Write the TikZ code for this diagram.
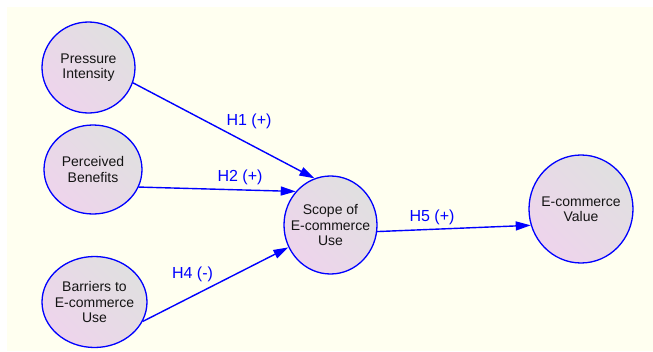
\documentclass[tikz,border=0pt]{standalone}
\usepackage{fontspec}
\setmainfont{Liberation Sans}
\usetikzlibrary{shapes.geometric,arrows.meta}
\definecolor{bgyellow}{RGB}{255,255,240}
\definecolor{edgeblue}{RGB}{0,0,255}
\definecolor{fillgray}{RGB}{224,224,224}
\definecolor{fillpink}{RGB}{238,212,236}
\definecolor{txt}{RGB}{20,20,20}
\begin{document}
\begin{tikzpicture}[x=1pt,y=-1pt,
  construct/.style={ellipse, draw=edgeblue, line width=1.3pt, left color=fillgray, right color=fillpink, shading angle=-45, inner sep=-18pt, align=center, font=\fontsize{14}{15.5}\selectfont, text=txt},
  link/.style={draw=edgeblue, line width=1.4pt, -{Triangle[length=15pt,width=9pt]}},
  hyp/.style={text=edgeblue, font=\fontsize{16}{18}\selectfont, inner sep=0pt}]
\useasboundingbox (0,0) rectangle (653,351);
\fill[bgyellow] (7,7) rectangle (653,351);
\node[construct, minimum width=93pt, minimum height=91pt] (pi) at (88.5,67.5) {Pressure\\ Intensity};
\node[construct, minimum width=98pt, minimum height=89pt] (pb) at (93,169.5) {Perceived\\Benefits};
\node[construct, minimum width=105pt, minimum height=91pt] (bu) at (94.5,302) {Barriers to\\E-commerce\\Use};
\node[construct, minimum width=93pt, minimum height=98pt] (sc) at (330.5,225) {Scope of\\E-commerce\\Use};
\node[construct, minimum width=104pt, minimum height=108pt] (ev) at (581,209) {E-commerce\\Value};
\draw[link] (pi.-19) -- (sc.109.4);
\draw[link] (pb.-21.7) -- (sc.136.3);
\draw[link] (bu.-22.7) -- (sc.208.4);
\draw[link] (sc.-8.6) -- (ev.198.8);
\node[hyp] (h1) at (249,121) {H1 (+)};
\node[hyp] (h2) at (240,177.5) {H2 (+)};
\node[hyp] (h4) at (192.5,274) {H4 (-)};
\node[hyp] (h5) at (432,217.5) {H5 (+)};
\end{tikzpicture}
\end{document}
